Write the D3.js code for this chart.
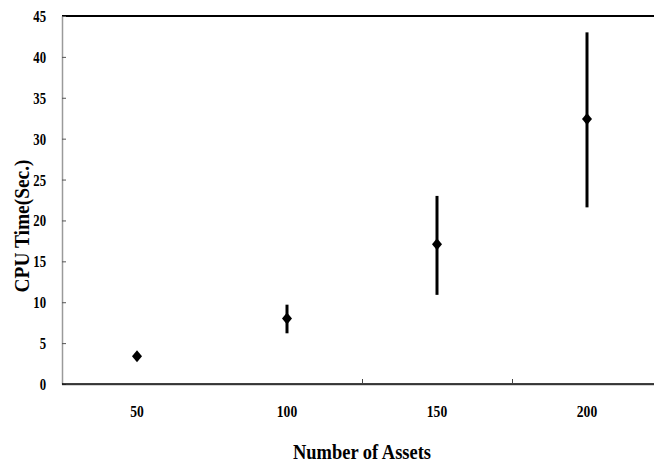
<!DOCTYPE html>
<html>
<head>
<meta charset="utf-8">
<script src="https://cdn.jsdelivr.net/npm/d3@7"></script>
<style>
  body { margin: 0; background: #fff; }
  svg text { font-family: "Liberation Serif", "Times New Roman", serif; font-weight: bold; fill: #000; }
</style>
</head>
<body>
<svg id="chart" width="654" height="465"></svg>
<script>
// data
var assets = ["50", "100", "150", "200"];
var cpuTime = [3.4, 8.0, 17.1, 32.4];
var errLow = [3.1, 6.2, 10.9, 21.6];
var errHigh = [3.7, 9.7, 23.0, 43.0];
var yTicks = [0, 5, 10, 15, 20, 25, 30, 35, 40, 45];
var xTickCats = ["150", "200"]; // only these band edges carry a tick mark

var plot = { left: 62, top: 16, right: 662, bottom: 384 };
var squeeze = 0.75; // condensed look of the tick numbers

var svg = d3.select("#chart");

var x = d3.scaleBand()
    .domain(assets)
    .range([plot.left, plot.right]);

var y = d3.scaleLinear()
    .domain([0, 45])
    .range([plot.bottom, plot.top]);

// top frame line
svg.append("line")
    .attr("x1", plot.left).attr("x2", 654)
    .attr("y1", plot.top).attr("y2", plot.top)
    .attr("stroke", "#000").attr("stroke-width", 2);

// y axis, ticks pointing inward
var yAxis = svg.append("g")
    .attr("transform", "translate(" + plot.left + ",0)")
    .call(d3.axisLeft(y).tickValues(yTicks).tickSizeInner(-4).tickSizeOuter(0).tickPadding(16));
yAxis.select(".domain").attr("stroke", "#9a9a9a").attr("stroke-width", 1.5);
yAxis.selectAll(".tick line").attr("stroke", "#555");
yAxis.selectAll(".tick text")
    .style("font-size", "17px")
    .attr("x", -16 / squeeze)
    .attr("transform", "scale(" + squeeze + ",1)");

// x axis: labels centred in each band
var xAxis = svg.append("g")
    .attr("transform", "translate(0," + plot.bottom + ")")
    .call(d3.axisBottom(x).tickSize(0).tickPadding(21));
xAxis.select(".domain").remove();
xAxis.selectAll(".tick text")
    .style("font-size", "17px")
    .attr("transform", "scale(0.8,1)");

// x axis line with its faint grey shadow
svg.append("line")
    .attr("x1", plot.left).attr("x2", 654)
    .attr("y1", plot.bottom + 1).attr("y2", plot.bottom + 1)
    .attr("stroke", "#aaa").attr("stroke-width", 1);
svg.append("line")
    .attr("x1", plot.left).attr("x2", 654)
    .attr("y1", plot.bottom).attr("y2", plot.bottom)
    .attr("stroke", "#000").attr("stroke-width", 1.5);

// inward tick marks on band edges
svg.selectAll("line.xtick")
    .data(xTickCats)
    .enter().append("line")
    .attr("class", "xtick")
    .attr("x1", function (d) { return x(d) + 0.5; })
    .attr("x2", function (d) { return x(d) + 0.5; })
    .attr("y1", plot.bottom)
    .attr("y2", plot.bottom - 5)
    .attr("stroke", "#444").attr("stroke-width", 1);

// error bars
var cx = function (i) { return x(assets[i]) + x.bandwidth() / 2; };
svg.selectAll("line.err")
    .data(assets)
    .enter().append("line")
    .attr("class", "err")
    .attr("x1", function (d, i) { return cx(i); })
    .attr("x2", function (d, i) { return cx(i); })
    .attr("y1", function (d, i) { return y(errHigh[i]); })
    .attr("y2", function (d, i) { return y(errLow[i]); })
    .attr("stroke", "#000").attr("stroke-width", 3);

// diamond markers
var hw = 5, hh = 6;
var diamond = d3.line()([[0, -hh], [hw, 0], [0, hh], [-hw, 0]]) + "Z";
svg.selectAll("path.pt")
    .data(cpuTime)
    .enter().append("path")
    .attr("class", "pt")
    .attr("d", diamond)
    .attr("transform", function (d, i) { return "translate(" + cx(i) + "," + y(d) + ")"; })
    .attr("fill", "#000");

// axis titles
svg.append("text")
    .attr("x", 362).attr("y", 459)
    .attr("text-anchor", "middle")
    .attr("textLength", 138).attr("lengthAdjust", "spacingAndGlyphs")
    .style("font-size", "21px")
    .text("Number of Assets");

svg.append("text")
    .attr("transform", "translate(29,226) rotate(-90)")
    .attr("text-anchor", "middle")
    .attr("textLength", 133).attr("lengthAdjust", "spacingAndGlyphs")
    .style("font-size", "21px")
    .text("CPU Time(Sec.)");
</script>
</body>
</html>
